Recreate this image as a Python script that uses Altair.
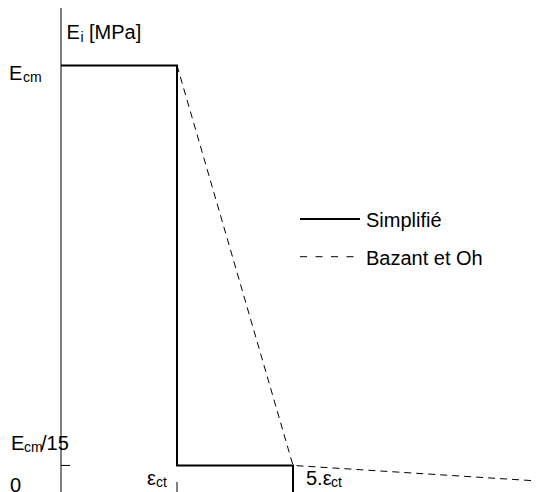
import altair as alt
import pandas as pd

FONT = "Liberation Sans"
FS = 20
SFS = 14

# ---- data (schematic units: x in "strain positions", y as fraction of Ecm) ----
simpl_x = [0, 1, 1, 2, 2]
simpl_y = [1, 1, 1 / 15, 1 / 15, 0]
bazant_x = [1, 2, 4.13]
bazant_y = [1, 1 / 15, 0.03]
series_names = ["Simplifié", "Bazant et Oh"]
tick_x = [1, 2]           # eps_ct, 5.eps_ct
tick_y = [1 / 15]         # Ecm/15

# ---- scales (layout) ----
PXX = 116.0
PXY = 428.6
W, H = 525, 486
XMIN = -53 / PXX
XMAX = XMIN + W / PXX
YMIN = 0.0
YMAX = H / PXY

xs = alt.Scale(domain=[XMIN, XMAX], nice=False, zero=False)
ys = alt.Scale(domain=[YMIN, YMAX], nice=False, zero=False)


def X(f="x"):
    return alt.X(f"{f}:Q", scale=xs, axis=None)


def Y(f="y"):
    return alt.Y(f"{f}:Q", scale=ys, axis=None)


def line_layer(xv, yv, **mk):
    df = pd.DataFrame({"x": xv, "y": yv, "o": list(range(len(xv)))})
    return alt.Chart(df).mark_line(color="black", strokeJoin="miter", **mk).encode(
        x=X(), y=Y(), order="o:Q")


def txt(x, y, s, dx, dy, size=FS):
    df = pd.DataFrame({"x": [x], "y": [y], "t": [s]})
    return alt.Chart(df).mark_text(
        align="left", baseline="alphabetic", dx=dx, dy=dy,
        fontSize=size, font=FONT, color="black").encode(x=X(), y=Y(), text="t:N")


layers = []

# axis lines
layers.append(alt.Chart(pd.DataFrame({"x": [0], "y": [YMIN], "y2": [YMAX]})).mark_rule(
    color="black", strokeWidth=1).encode(x=X(), y=Y(), y2="y2:Q"))
layers.append(alt.Chart(pd.DataFrame({"x": [0], "x2": [XMAX], "y": [0]})).mark_rule(
    color="black", strokeWidth=1).encode(x=X(), x2="x2:Q", y=Y()))

# ticks (inward)
layers.append(alt.Chart(pd.DataFrame({"x": [0] * len(tick_y), "x2": [9 / PXX] * len(tick_y), "y": tick_y})).mark_rule(
    color="black", strokeWidth=1).encode(x=X(), x2="x2:Q", y=Y()))
layers.append(alt.Chart(pd.DataFrame({"x": tick_x, "y": [0] * len(tick_x), "y2": [12 / PXY] * len(tick_x)})).mark_rule(
    color="black", strokeWidth=1).encode(x=X(), y=Y(), y2="y2:Q"))

# curves
layers.append(line_layer(bazant_x, bazant_y, strokeWidth=1, strokeDash=[7, 5]))
layers.append(line_layer(simpl_x, simpl_y, strokeWidth=2))

# legend
LX0 = (300 - 61) / PXX
LX1 = (360 - 61) / PXX
LX1D = (354 - 61) / PXX
LY = [(494 - 219) / PXY, (494 - 256.7) / PXY]
layers.append(alt.Chart(pd.DataFrame({"x": [LX0], "x2": [LX1], "y": [LY[0]]})).mark_rule(
    color="black", strokeWidth=2).encode(x=X(), x2="x2:Q", y=Y()))
layers.append(alt.Chart(pd.DataFrame({"x": [LX0], "x2": [LX1D], "y": [LY[1]]})).mark_rule(
    color="black", strokeWidth=1, strokeDash=[7, 8.5]).encode(x=X(), x2="x2:Q", y=Y()))
layers.append(txt(LX1, LY[0], series_names[0], 6, 7.5))
layers.append(txt(LX1, LY[1], series_names[1], 6, 8))

# y labels
layers.append(txt(0, 1, "E", 5.5, -26))
layers.append(txt(0, 1, "i", 19.5, -23, SFS))
layers.append(txt(0, 1, "[MPa]", 28, -26))

layers.append(txt(0, 1, "E", -52, 14.6))
layers.append(txt(0, 1, "cm", -38, 16.6, SFS))

layers.append(txt(0, 1 / 15, "E", -50, -15))
layers.append(txt(0, 1 / 15, "cm", -37, -13, SFS))
layers.append(txt(0, 1 / 15, "/15", -20, -15))

layers.append(txt(0, 0, "0", -51, -2))

# x labels
layers.append(txt(1, 0, "ε", -30, -9))
layers.append(txt(1, 0, "ct", -21, -7, SFS))
layers.append(txt(2, 0, "5.ε", 13, -9))
layers.append(txt(2, 0, "ct", 38, -7, SFS))

chart = alt.layer(*layers).properties(
    width=W, height=H, autosize=alt.AutoSizeParams(type="none"),
    padding={"left": 0, "top": 0, "right": 0, "bottom": 0},
    background="white",
).configure_view(stroke=None)

chart.save("out.html", embed_options={"renderer": "svg", "actions": False})
